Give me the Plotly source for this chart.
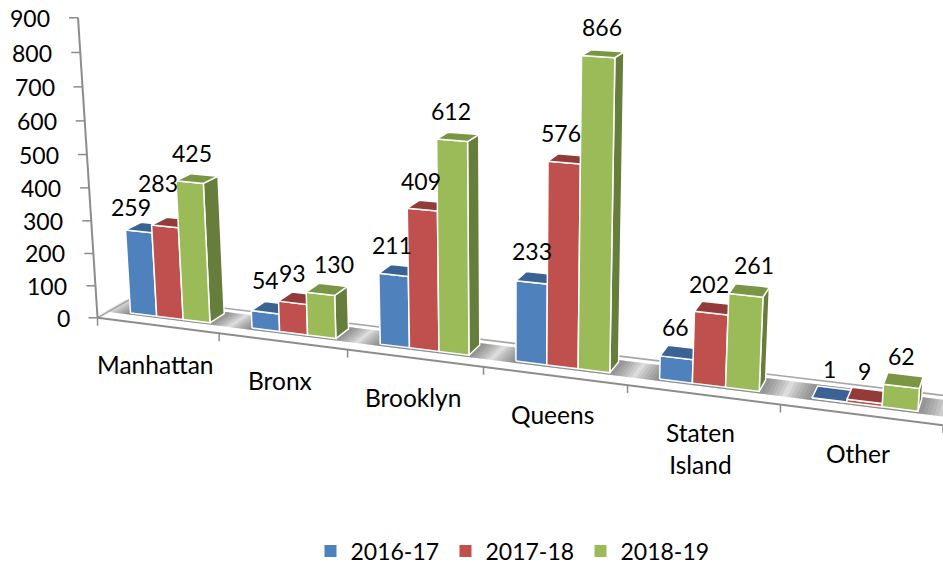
import numpy as np
import plotly.graph_objects as go

categories = ["Manhattan", "Bronx", "Brooklyn", "Queens", "Staten<br>Island", "Other"]
series_names = ["2016-17", "2017-18", "2018-19"]
values_2016 = [259, 54, 211, 233, 66, 1]
values_2017 = [283, 93, 409, 576, 202, 9]
values_2018 = [425, 130, 612, 866, 261, 62]
value_ticks = [0, 100, 200, 300, 400, 500, 600, 700, 800, 900]

front_colors = ["#4F81BD", "#C0504D", "#9BBB59"]
side_colors = ["#3A6190", "#8F3A38", "#677D3B"]
top_colors = ["#3B6294", "#923B39", "#7A9645"]
AXIS = "#8C8C8C"
FONT = "Lato"
FS = 23
FS_CAT = 24.5
PAGE_H = 581

# camera calibration: (category pos, depth, value) -> pixel
CAL = [
    (0, 0, 0, 98, 317), (0, 0, 900, 77, 17), (0, 0, 500, 87, 154),
    (1, 0, 0, 219, 333), (2, 0, 0, 347, 349), (3, 0, 0, 482, 367),
    (4, 0, 0, 626, 385), (5, 0, 0, 778, 405), (6, 0, 0, 943, 428),
    (0, 1, 0, 130, 302), (6, 1, 0, 948, 394),
    (3.83, .35, 866, 614, 57), (3.83, .35, 0, 611, 372),
    (0.83, .35, 425, 204, 184), (0.83, .35, 0, 211, 322),
    (5.83, .35, 0, 922, 412),
    (3.17, .35, 0, 516, 361), (0.17, .35, 0, 131, 313), (0.17, .35, 259, 127, 231),
    (3.83, .78, 866, 624, 52), (3.83, .78, 0, 621, 362),
    (0.83, .78, 0, 227, 310), (0.83, .78, 425, 220, 178),
]


def _basis(x, d, v):
    return [x / 6.0, d, v / 900.0]


rows, rhs = [], []
for x, d, v, pu, pv in CAL:
    p = _basis(x, d, v)
    k = 3.0 if v == 0 else 1.0
    rows.append([k * q for q in p + [1, 0, 0, 0, 0] + [-pu * r for r in p]])
    rhs.append(k * pu)
    rows.append([k * q for q in [0, 0, 0, 0] + p + [1] + [-pv * r for r in p]])
    rhs.append(k * pv)
sol = np.linalg.lstsq(np.array(rows, float), np.array(rhs, float), rcond=None)[0]


def proj(x, d, v):
    p = np.array(_basis(x, d, v) + [1.0])
    w = 1 + sol[8:11] @ p[:3]
    return float(sol[0:4] @ p / w), float(sol[4:8] @ p / w)


def poly(points):
    xy = [proj(*p) for p in points]
    xy.append(xy[0])
    return [q[0] for q in xy], [q[1] for q in xy]


def join(polys):
    xs, ys = [], []
    for a, b in polys:
        xs += a + [None]
        ys += b + [None]
    return xs, ys


D0, D1 = 0.35, 0.78
BAR0, BARW = 0.17, 0.22

fig = go.Figure()


def area(xs, ys, fill, line=None, width=0):
    fig.add_trace(go.Scatter(
        x=xs, y=ys, mode="lines", fill="toself", fillcolor=fill,
        line=dict(color=line or fill, width=width), showlegend=False, hoverinfo="skip"))


def stroke(a, b, color=AXIS, width=2):
    xs, ys = [], []
    for (p, q) in zip(a, b):
        xs += [p[0], q[0], None]
        ys += [p[1], q[1], None]
    fig.add_trace(go.Scatter(x=xs, y=ys, mode="lines", line=dict(color=color, width=width),
                             showlegend=False, hoverinfo="skip"))


# floor and its edges
fx, fy = poly([(0, 0, 0), (6, 0, 0), (6, 1, 0), (0, 1, 0)])
area(fx, fy, "#FFFFFF")

# soft shadow under each cluster
for e in np.linspace(0.20, 0.01, 9):
    polys = []
    for c in range(len(categories)):
        polys.append(poly([(c + BAR0 - e, D0 - .07, 0), (c + BAR0 + 3 * BARW + e, D0 - .07, 0),
                           (c + BAR0 + 3 * BARW + e, D1 + .07, 0), (c + BAR0 - e, D1 + .07, 0)]))
    area(*join(polys), "rgba(80,80,80,0.10)")

stroke([proj(0, 0, 0), proj(0, 1, 0)], [proj(0, 1, 0), proj(6, 1, 0)], "#A6A6A6", 1.6)
stroke([proj(0, 0, 0)], [proj(6, 0, 0)], AXIS, 2)

# category ticks
tick_a = [proj(i, 0, 0) for i in range(len(categories) + 1)]
stroke(tick_a, [(u, v + 8) for u, v in tick_a], AXIS, 1.5)

# value axis
stroke([proj(0, 0, 0)], [proj(0, 0, max(value_ticks))], AXIS, 2)
tick_b = [proj(0, 0, t) for t in value_ticks]
stroke(tick_b, [(u - 9, v) for u, v in tick_b], AXIS, 1.5)

# bars
for s, vals in enumerate([values_2016, values_2017, values_2018]):
    sides, fronts, tops = [], [], []
    for c, val in enumerate(vals):
        a = c + BAR0 + s * BARW
        b = a + BARW
        fronts.append(poly([(a, D0, 0), (b, D0, 0), (b, D0, val), (a, D0, val)]))
        sides.append(poly([(b, D0, 0), (b, D1, 0), (b, D1, val), (b, D0, val)]))
        tops.append(poly([(a, D0, val), (b, D0, val), (b, D1, val), (a, D1, val)]))
    area(*join(sides), side_colors[s], "#FFFFFF", 1.5)
    area(*join(fronts), front_colors[s], "#FFFFFF", 1.5)
    area(*join(tops), top_colors[s], "#FFFFFF", 1.5)

# legend entries
for s, name in enumerate(series_names):
    fig.add_trace(go.Scatter(x=[None], y=[None], mode="markers", name=name,
                             marker=dict(symbol="square", size=12, color=front_colors[s])))

annotations = []


def label(text, u, v, anchor="center", size=FS):
    annotations.append(dict(x=u, y=v, text=text, showarrow=False, xref="x", yref="y",
                            xanchor=anchor, yanchor="middle",
                            font=dict(family=FONT, size=size, color="#000000")))


for t, (u, v) in zip(value_ticks, tick_b):
    label(str(t), u - 26, v, "right")

for i, name in enumerate(categories):
    u, v = proj(i + 0.5, 0, 0)
    label(name, u - 2, v + (54 if "<br>" in name else 39), size=FS_CAT)

# data label placement (text only)
label_spots = [
    [(131, 207), (265, 280), (392, 245), (532, 251), (675, 327), (829, 369)],
    [(158, 183), (292, 273), (421, 181), (561, 133), (709, 284), (864, 371)],
    [(192, 153), (334, 264), (451, 111), (602, 27), (754, 265), (901, 356)],
]
for vals, spots in zip([values_2016, values_2017, values_2018], label_spots):
    for val, (u, v) in zip(vals, spots):
        label(str(val), u, v)

fig.update_layout(
    width=943, height=PAGE_H, margin=dict(l=0, r=0, t=0, b=0),
    paper_bgcolor="#FFFFFF", plot_bgcolor="#FFFFFF",
    xaxis=dict(range=[0, 943], visible=False, fixedrange=True),
    yaxis=dict(range=[PAGE_H, 0], visible=False, fixedrange=True),
    annotations=annotations,
    legend=dict(orientation="h", x=0.544, xanchor="center", y=1 - 551 / PAGE_H, yanchor="middle",
                entrywidth=90, entrywidthmode="pixels",
                font=dict(family=FONT, size=FS, color="#000000"), bgcolor="rgba(0,0,0,0)"),
)
fig.write_html("out.html", config={"displayModeBar": False},
               post_script="document.body.style.margin='0';document.documentElement.style.overflow='hidden';document.body.style.overflow='hidden';")
